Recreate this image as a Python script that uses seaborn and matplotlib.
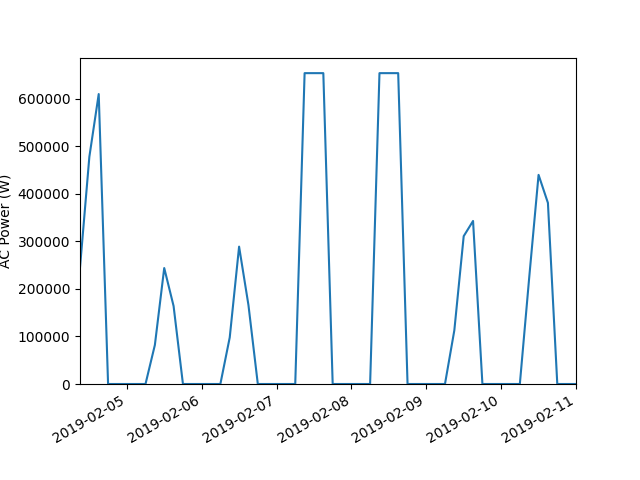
import pandas as pd
import seaborn as sns
import matplotlib.pyplot as plt

# 3-hourly AC power readings, 2019-02-04 09:00 to 2019-02-11 00:00
start_time = "2019-02-04 09:00"
end_time = "2019-02-11 00:00"

day_04 = [245000, 478000, 610000, 0, 0]
day_05 = [0, 0, 0, 82000, 244000, 164000, 0, 0]
day_06 = [0, 0, 0, 98000, 289000, 166000, 0, 0]
day_07 = [0, 0, 0, 654000, 654000, 654000, 0, 0]
day_08 = [0, 0, 0, 654000, 654000, 654000, 0, 0]
day_09 = [0, 0, 0, 113000, 311000, 343000, 0, 0]
day_10 = [0, 0, 0, 224000, 440000, 381000, 0, 0]
day_11 = [0]

ac_power = day_04 + day_05 + day_06 + day_07 + day_08 + day_09 + day_10 + day_11
times = pd.date_range(start_time, end_time, freq="3h")

df = pd.DataFrame({"time": times, "ac_power": ac_power})

fig, ax = plt.subplots(figsize=(6.4, 4.8), dpi=100)
sns.lineplot(data=df, x="time", y="ac_power", ax=ax)
ax.set_xlim(df["time"].min(), df["time"].max())
ax.set_ylim(bottom=0)
ax.set_xlabel("")
ax.set_ylabel("AC Power (W)")
fig.autofmt_xdate()
plt.savefig("out.png")
plt.close()
